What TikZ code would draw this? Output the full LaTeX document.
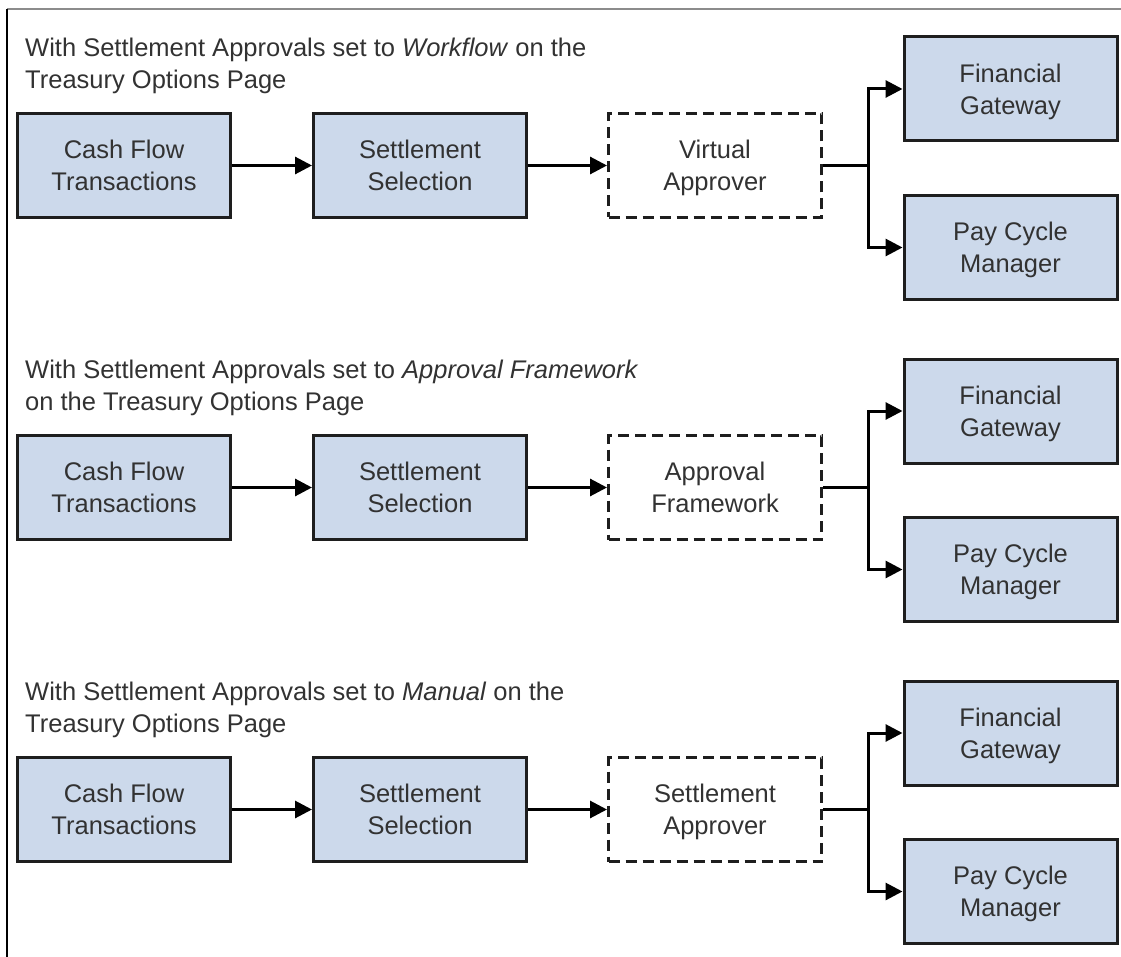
\documentclass[tikz,border=0pt]{standalone}
\usepackage{fontspec}
\setmainfont{Liberation Sans}
\usetikzlibrary{arrows.meta,shadows}
\definecolor{boxfill}{RGB}{204,217,235}
\definecolor{txt}{RGB}{50,50,50}
\definecolor{edge}{RGB}{30,30,30}
\definecolor{frametop}{RGB}{140,140,140}
\begin{document}
\begin{tikzpicture}[x=1pt,y=-1pt,
  every node/.style={text=txt, font=\fontsize{25.5}{32}\selectfont, inner sep=0pt},
  solidbox/.style={draw=edge, line width=3pt, fill=boxfill, align=center,
    minimum width=213pt, minimum height=104pt,
    drop shadow={shadow xshift=1.5pt, shadow yshift=-1.5pt, fill=black, opacity=0.22}},
  dashbox/.style={draw=edge, line width=3pt, dash pattern=on 11pt off 6pt, align=center,
    minimum width=213pt, minimum height=104pt},
  header/.style={align=left, anchor=west},
  conn/.style={draw=black, line width=3pt},
  arr/.style={conn, -{Triangle[length=17pt,width=17pt]}}
]
\useasboundingbox (0,0) rectangle (1121,957);
\draw[frametop, line width=1.5pt] (7,9) -- (1121,9);
\draw[black, line width=1.5pt] (7,9) -- (7,957);

\foreach \r/\k/\hd/\lbl in {
  0/1/{With Settlement Approvals set to \textit{Workflow} on the\\Treasury Options Page}/{Virtual\\A\smash{pp}rover},
  322/2/{With Settlement Approvals set to \textit{Approval Framework}\\on the Treasury Options Page}/{Approval\\Framework},
  644/3/{With Settlement Approvals set to \textit{Manual} on the\\Treasury Options Page}/{Settlement\\A\smash{pp}rover}}{
  \node[header] (hd\k) at (25,65.5+\r) {\hd};
  \node[solidbox] (cf\k) at (124,165.5+\r) {Cash Flow\\Transactions};
  \node[solidbox] (ss\k) at (420,165.5+\r) {Settlement\\Selection};
  \node[dashbox] (ap\k) at (715,165.5+\r) {\lbl};
  \node[solidbox] (fg\k) at (1010.5,89+\r) {Financial\\Gatewa\smash{y}};
  \node[solidbox] (pc\k) at (1010.5,247.5+\r) {Pay Cycle\\Mana\smash{g}er};
  \coordinate (br\k) at (868,165.5+\r);
  \draw[arr] (cf\k) -- (ss\k);
  \draw[arr] (ss\k) -- (ap\k);
  \draw[conn] (ap\k.east) -- (br\k);
  \draw[arr] (br\k) |- (fg\k.west);
  \draw[arr] (br\k) |- (pc\k.west);
}
\end{tikzpicture}
\end{document}
